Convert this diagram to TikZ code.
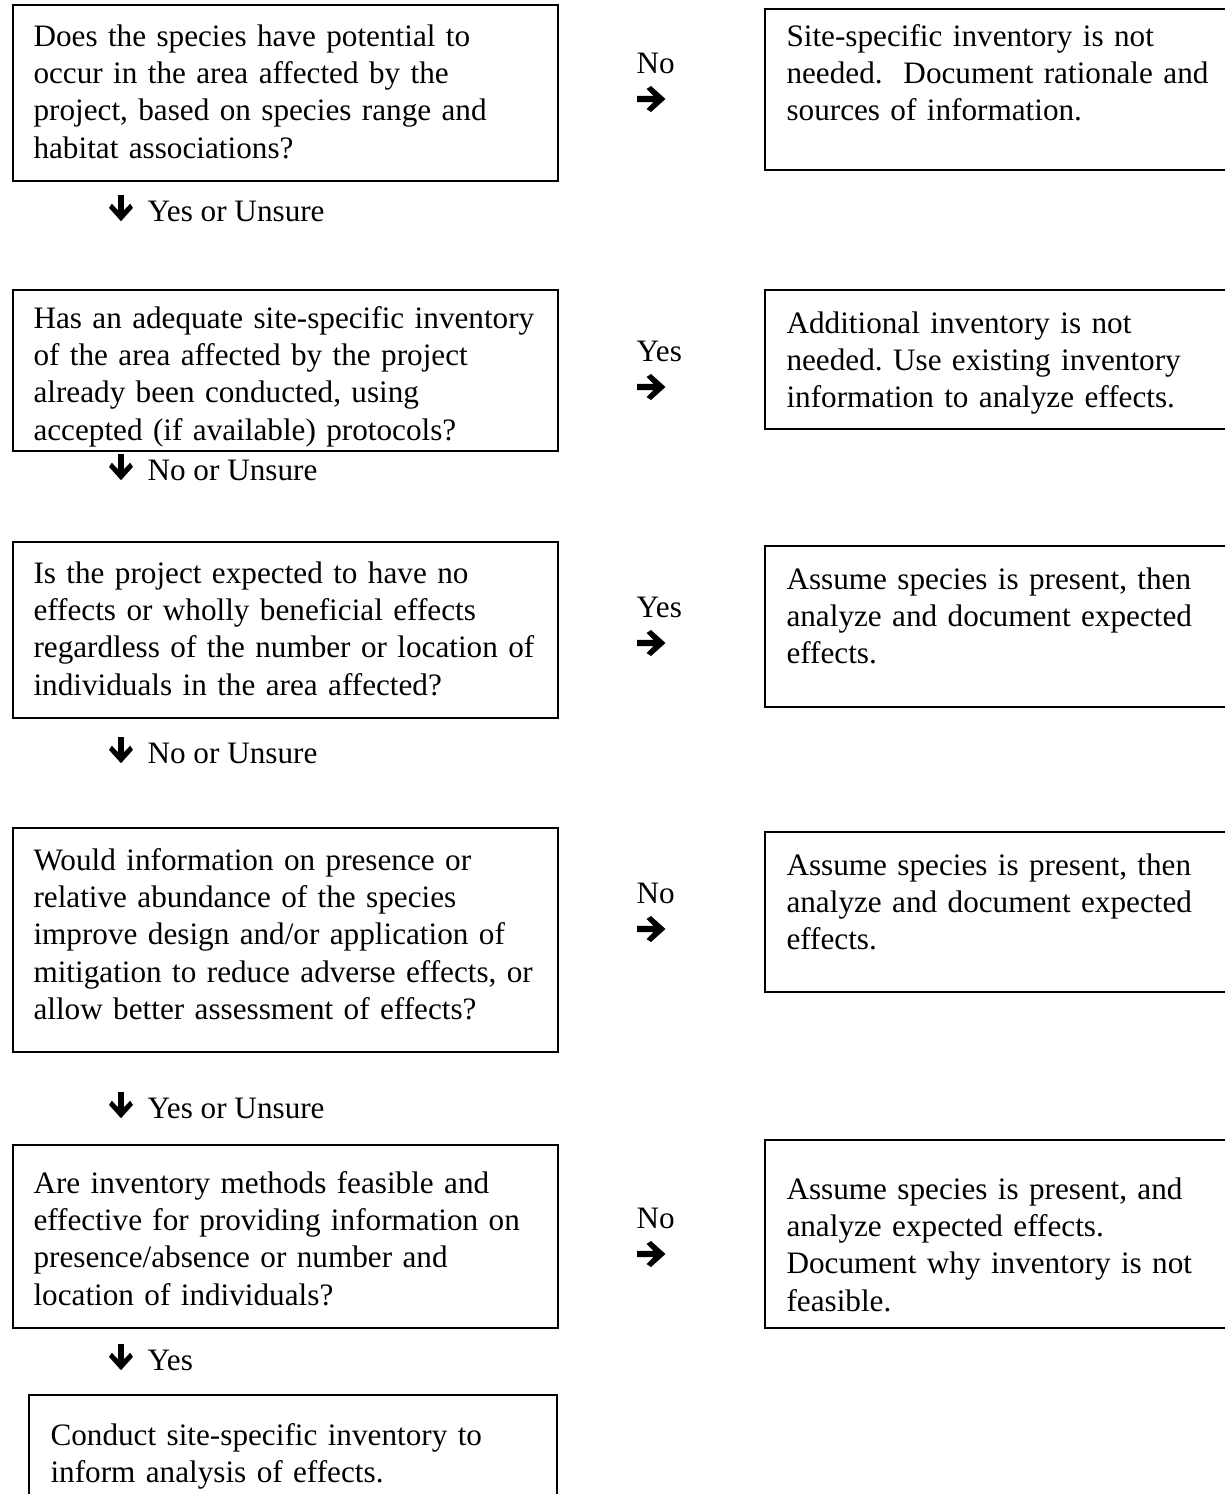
\documentclass[tikz,border=0pt]{standalone}
\usepackage{fontspec}
\setmainfont{Liberation Serif}
\usetikzlibrary{fit}
\begin{document}
\frenchspacing
\begin{tikzpicture}[x=0.375pt,y=-0.375pt,
  box/.style={draw=black,line width=0.7pt,inner sep=0pt},
  txt/.style={anchor=base west,inner sep=0pt,text width=#1,align=left,font=\fontsize{11.7}{14}\selectfont\frenchspacing},
  lbl/.style={anchor=base west,inner sep=0pt,font=\fontsize{11.7}{14}\selectfont},
  rarr/.pic={\fill (0,-3.2) -- (16.5,-3.2) -- (9.5,-10) -- (14,-13) -- (28.5,0) -- (14,13) -- (9.5,10) -- (16.5,3.2) -- (0,3.2) -- cycle;}
]
\useasboundingbox (0,0) rectangle (1225,1494);
\clip (0,0) rectangle (1225,1494);
\fill[white] (0,0) rectangle (1225,1494);

% left column boxes
\node[box,fit={(13,5) (558,181)}] (b1) {};
\node[box,fit={(13,290) (558,451)}] (b2) {};
\node[box,fit={(13,542) (558,718)}] (b3) {};
\node[box,fit={(13,828) (558,1052)}] (b4) {};
\node[box,fit={(13,1145) (558,1328)}] (b5) {};
\node[box,fit={(29,1395) (557,1520)}] (b6) {};

% right column boxes
\node[box,fit={(765,9) (1240,170)}] (r1) {};
\node[box,fit={(765,290) (1240,429)}] (r2) {};
\node[box,fit={(765,546) (1240,707)}] (r3) {};
\node[box,fit={(765,832) (1240,992)}] (r4) {};
\node[box,fit={(765,1140) (1240,1328)}] (r5) {};

% texts
\node[txt=200pt] (tb1) at (33,46) {Does the species have potential to\\occur in the area affected by the\\project, based on species range and\\habitat associations?};
\node[txt=200pt] (tb2) at (33,328) {Has an adequate site-specific inventory\\of the area affected by the project\\already been conducted, using\\accepted (if available) protocols?};
\node[txt=200pt] (tb3) at (33,583) {Is the project expected to have no\\effects or wholly beneficial effects\\regardless of the number or location of\\individuals in the area affected?};
\node[txt=200pt] (tb4) at (33,870) {Would information on presence or\\relative abundance of the species\\improve design and/or application of\\mitigation to reduce adverse effects, or\\allow better assessment of effects?};
\node[txt=200pt] (tb5) at (33,1193) {Are inventory methods feasible and\\effective for providing information on\\presence/absence or number and\\location of individuals?};
\node[txt=200pt] (tb6) at (50,1445) {Conduct site-specific inventory to\\inform analysis of effects.};

\node[txt=170pt] (tr1) at (786,46) {Site-specific inventory is not\\needed.\ \ Document rationale and\\sources of information.};
\node[txt=170pt] (tr2) at (786,333) {Additional inventory is not\\needed. Use existing inventory\\information to analyze effects.};
\node[txt=170pt] (tr3) at (786,589) {Assume species is present, then\\analyze and document expected\\effects.};
\node[txt=170pt] (tr4) at (786,875) {Assume species is present, then\\analyze and document expected\\effects.};
\node[txt=170pt] (tr5) at (786,1199) {Assume species is present, and\\analyze expected effects.\\Document why inventory is not\\feasible.};

% side decisions
\node[lbl] (s1) at (636,73) {No};
\node[lbl] (s2) at (636,361) {Yes};
\node[lbl] (s3) at (636,617) {Yes};
\node[lbl] (s4) at (636,903) {No};
\node[lbl] (s5) at (636,1228) {No};
\pic at (637,99) {rarr};
\pic at (637,387) {rarr};
\pic at (637,643) {rarr};
\pic at (637,929) {rarr};
\pic at (637,1254) {rarr};

% downward decisions
\node[lbl] (d1) at (147,221) {Yes or Unsure};
\node[lbl] (d2) at (147,480) {No or Unsure};
\node[lbl] (d3) at (147,763) {No or Unsure};
\node[lbl] (d4) at (147,1118) {Yes or Unsure};
\node[lbl] (d5) at (147,1370) {Yes};
\pic[rotate=-90,scale=0.92] at (121,195) {rarr};
\pic[rotate=-90,scale=0.92] at (121,454) {rarr};
\pic[rotate=-90,scale=0.92] at (121,737) {rarr};
\pic[rotate=-90,scale=0.92] at (121,1092) {rarr};
\pic[rotate=-90,scale=0.92] at (121,1344) {rarr};
\end{tikzpicture}
\end{document}
